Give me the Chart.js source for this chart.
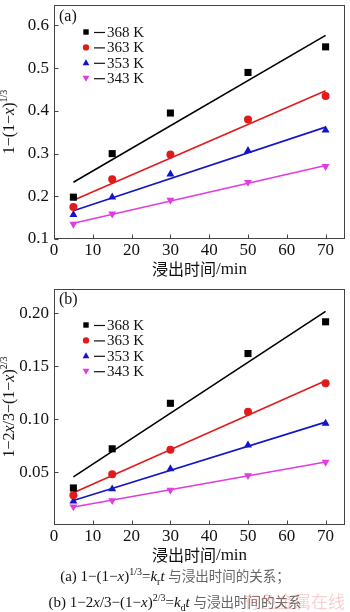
<!DOCTYPE html>
<html>
<head>
<meta charset="utf-8">
<script src="https://cdn.jsdelivr.net/npm/chart.js@4.4.1/dist/chart.umd.min.js"></script>
<style>
  html, body { margin: 0; padding: 0; background: #fff; }
  body { width: 350px; height: 612px; position: relative; overflow: hidden; }
  canvas { position: absolute; left: 0; }
  #chartA { top: 0; }
  #chartB { top: 280px; }
  .cap { position: absolute; left: 0; width: 350px; text-align: center; white-space: nowrap;
         font: 15px 'Liberation Serif', serif; color: #111; line-height: 20px; }
  .cap sup, .cap sub { font-size: 10px; line-height: 0; }
  .cap .cn { font-family: 'Noto Sans CJK SC', sans-serif; font-size: 13.5px; color: #666; }
  #cap1 { top: 565px; }
  #cap2 { top: 591px; }
  #mark { position: absolute; left: 243px; top: 588px; font: 17px 'Noto Sans CJK SC', sans-serif;
          color: rgba(235, 120, 120, 0.35); white-space: nowrap; }
</style>
</head>
<body>
<canvas id="chartA" width="350" height="285"></canvas>
<canvas id="chartB" width="350" height="291"></canvas>
<div class="cap" id="cap1">(a) 1−(1−<i>x</i>)<sup>1/3</sup>=<i>k</i><sub>r</sub><i>t</i> <span class="cn">与浸出时间的关系；</span></div>
<div class="cap" id="cap2">(b) 1−2<i>x</i>/3−(1−<i>x</i>)<sup>2/3</sup>=<i>k</i><sub>d</sub><i>t</i> <span class="cn">与浸出时间的关系</span></div>
<div id="mark">有色金属在线</div>

<script>
// ── DATA ────────────────────────────────────────────────────
const times  = [5, 15, 30, 50, 70];
const temps  = ['368 K', '363 K', '353 K', '343 K'];

// (a) 1-(1-x)^(1/3)
const a368 = [0.198, 0.300, 0.395, 0.490, 0.550];
const a363 = [0.175, 0.240, 0.298, 0.380, 0.435];
const a353 = [0.157, 0.198, 0.252, 0.307, 0.355];
const a343 = [0.135, 0.159, 0.191, 0.233, 0.270];

// (b) 1-2x/3-(1-x)^(2/3)
const b368 = [0.035, 0.072, 0.115, 0.162, 0.192];
const b363 = [0.028, 0.048, 0.071, 0.107, 0.134];
const b353 = [0.0226, 0.034, 0.053, 0.0755, 0.096];
const b343 = [0.0173, 0.0232, 0.033, 0.0468, 0.0594];

// fitted lines, end points
const fitX    = [5, 70];
const fitA368 = [0.233, 0.577];
const fitA363 = [0.191, 0.447];
const fitA353 = [0.166, 0.362];
const fitA343 = [0.137, 0.272];
const fitB368 = [0.0455, 0.2018];
const fitB363 = [0.0304, 0.1364];
const fitB353 = [0.0232, 0.0972];
const fitB343 = [0.0170, 0.0595];

// ticks
const xTicks   = [0, 10, 20, 30, 40, 50, 60, 70];
const yTicksA  = [0.1, 0.2, 0.3, 0.4, 0.5, 0.6];
const yLabelsA = ['0.1', '0.2', '0.3', '0.4', '0.5', '0.6'];
const yTicksB  = [0.05, 0.10, 0.15, 0.20];
const yLabelsB = ['0.05', '0.10', '0.15', '0.20'];

// ── STYLE ───────────────────────────────────────────────────
const colors = ['#000000', '#e01b1b', '#1515c8', '#e03ce0'];
const marks  = ['rect', 'circle', 'tri', 'triDown'];
const SERIF  = "'Liberation Serif', 'Times New Roman', serif";
const CJK    = "'Noto Sans CJK SC', sans-serif";

function pts(ys, xs) { return ys.map((y, i) => ({ x: xs[i], y: y })); }

function pointOpts(i) {
  const m = marks[i];
  if (m === 'rect')   return { pointStyle: 'rect', pointRadius: 5, pointRotation: 0 };
  if (m === 'circle') return { pointStyle: 'circle', pointRadius: 4, pointRotation: 0 };
  if (m === 'tri')    return { pointStyle: 'triangle', pointRadius: 4.6, pointRotation: 0 };
  return { pointStyle: 'triangle', pointRadius: 4.6, pointRotation: 180 };
}

function drawMarker(ctx, kind, x, y, color, s) {
  ctx.fillStyle = color;
  ctx.beginPath();
  if (kind === 'rect') ctx.rect(x - 3 * s, y - 3 * s, 6 * s, 6 * s);
  else if (kind === 'circle') ctx.arc(x, y, 3.5 * s, 0, Math.PI * 2);
  else if (kind === 'tri') {
    ctx.moveTo(x, y - 4 * s); ctx.lineTo(x + 3.8 * s, y + 2.6 * s); ctx.lineTo(x - 3.8 * s, y + 2.6 * s);
    ctx.closePath();
  } else {
    ctx.moveTo(x, y + 4 * s); ctx.lineTo(x + 3.8 * s, y - 2.6 * s); ctx.lineTo(x - 3.8 * s, y - 2.6 * s);
    ctx.closePath();
  }
  ctx.fill();
}

// frame, inner ticks, panel label, legend and axis titles
const decoPlugin = {
  id: 'deco',
  afterDraw(chart, args, o) {
    const ctx = chart.ctx, ca = chart.chartArea;
    const xs = chart.scales.x, ys = chart.scales.y;
    ctx.save();

    // frame
    ctx.strokeStyle = '#444';
    ctx.lineWidth = 1;
    const l = Math.round(ca.left) + 0.5, t = Math.round(ca.top) + 0.5;
    const r = Math.round(ca.right) - 0.5, b = Math.round(ca.bottom) - 0.5;
    ctx.strokeRect(l, t, r - l, b - t);

    // inner ticks
    ctx.beginPath();
    xTicks.forEach(v => {
      const px = Math.round(xs.getPixelForValue(v)) + 0.5;
      ctx.moveTo(px, b); ctx.lineTo(px, b - 4);
    });
    o.yTicks.forEach(v => {
      const py = Math.round(ys.getPixelForValue(v)) + 0.5;
      ctx.moveTo(l, py); ctx.lineTo(l + 4, py);
    });
    ctx.stroke();

    // panel label
    ctx.fillStyle = '#111';
    ctx.font = '16px ' + SERIF;
    ctx.textBaseline = 'middle';
    ctx.textAlign = 'left';
    ctx.fillText(o.panel, ca.left + 5, ca.top + o.panelDy);

    // legend
    temps.forEach((name, i) => {
      const y = o.legendTop + i * 15.4;
      drawMarker(ctx, marks[i], 86, y, colors[i], 0.9);
      ctx.strokeStyle = '#111';
      ctx.lineWidth = 1.2;
      ctx.beginPath(); ctx.moveTo(94, y + 0.5); ctx.lineTo(105, y + 0.5); ctx.stroke();
      ctx.fillStyle = '#111';
      ctx.font = '15px ' + SERIF;
      ctx.fillText(name, 107, y + 1);
    });

    // y title (rotated, with italic x and superscript)
    ctx.save();
    ctx.translate(14, (ca.top + ca.bottom) / 2);
    ctx.rotate(-Math.PI / 2);
    ctx.textBaseline = 'alphabetic';
    const fontOf = k => k === 's' ? '10px ' + SERIF : (k === 'i' ? 'italic 16px ' + SERIF : '16px ' + SERIF);
    let total = 0;
    o.yTitle.forEach(([txt, k]) => { ctx.font = fontOf(k); total += ctx.measureText(txt).width; });
    let cx = -total / 2;
    o.yTitle.forEach(([txt, k]) => {
      ctx.font = fontOf(k);
      ctx.fillText(txt, cx, k === 's' ? -7 : 0);
      cx += ctx.measureText(txt).width;
    });
    ctx.restore();

    // x title
    ctx.font = '16px ' + CJK;
    const w1 = ctx.measureText('浸出时间').width;
    ctx.font = '17px ' + SERIF;
    const w2 = ctx.measureText('/min').width;
    const x0 = (ca.left + ca.right) / 2 - (w1 + w2) / 2;
    const yT = ca.bottom + 30;
    ctx.textBaseline = 'middle';
    ctx.font = '16px ' + CJK;
    ctx.fillText('浸出时间', x0, yT);
    ctx.font = '17px ' + SERIF;
    ctx.fillText('/min', x0 + w1, yT + 1);

    ctx.restore();
  }
};

function buildChart(id, series, fits, yMin, yMax, yTicks, yLabels, deco, padTop) {
  const datasets = [];
  series.forEach((ys, i) => {
    datasets.push(Object.assign({
      label: temps[i],
      data: pts(ys, times),
      backgroundColor: colors[i],
      borderColor: colors[i],
      borderWidth: 0,
      showLine: false,
      order: 0
    }, pointOpts(i)));
    datasets.push({
      label: temps[i] + ' fit',
      data: pts(fits[i], fitX),
      borderColor: colors[i],
      borderWidth: 1.6,
      pointRadius: 0,
      showLine: true,
      order: 1
    });
  });

  const tickFont = { family: SERIF, size: 17 };

  return new Chart(document.getElementById(id), {
    type: 'scatter',
    data: { datasets },
    options: {
      responsive: false,
      animation: false,
      devicePixelRatio: 1,
      layout: { padding: { top: padTop, right: 1, left: 0, bottom: 0 } },
      plugins: {
        legend: { display: false },
        tooltip: { enabled: false },
        deco: Object.assign({ yTicks }, deco)
      },
      scales: {
        x: {
          type: 'linear', min: 0, max: 75,
          grid: { display: false, drawTicks: false },
          border: { display: false },
          afterBuildTicks: s => { s.ticks = xTicks.map(v => ({ value: v })); },
          afterFit: s => { s.height = 46; s.paddingLeft = 0; s.paddingRight = 0; },
          ticks: { padding: 1, font: tickFont, color: '#111', maxRotation: 0, autoSkip: false,
                   callback: v => String(v) }
        },
        y: {
          type: 'linear', min: yMin, max: yMax,
          grid: { display: false, drawTicks: false },
          border: { display: false },
          afterBuildTicks: s => { s.ticks = yTicks.map(v => ({ value: v })); },
          afterFit: s => { s.width = 54; s.paddingTop = 0; s.paddingBottom = 0; },
          ticks: { padding: 5, font: tickFont, color: '#111', autoSkip: false,
                   callback: (v, i) => yLabels[i] }
        }
      }
    },
    plugins: [decoPlugin]
  });
}

buildChart('chartA',
  [a368, a363, a353, a343],
  [fitA368, fitA363, fitA353, fitA343],
  0.1, 0.648, yTicksA, yLabelsA,
  { panel: '(a)', panelDy: 12, legendTop: 32,
    yTitle: [['1−(1−', 'n'], ['x', 'i'], [')', 'n'], ['1/3', 's']] },
  1);

buildChart('chartB',
  [b368, b363, b353, b343],
  [fitB368, fitB363, fitB353, fitB343],
  0, 0.223, yTicksB, yLabelsB,
  { panel: '(b)', panelDy: 11, legendTop: 45,
    yTitle: [['1−2', 'n'], ['x', 'i'], ['/3−(1−', 'n'], ['x', 'i'], [')', 'n'], ['2/3', 's']] },
  9);
</script>
</body>
</html>
